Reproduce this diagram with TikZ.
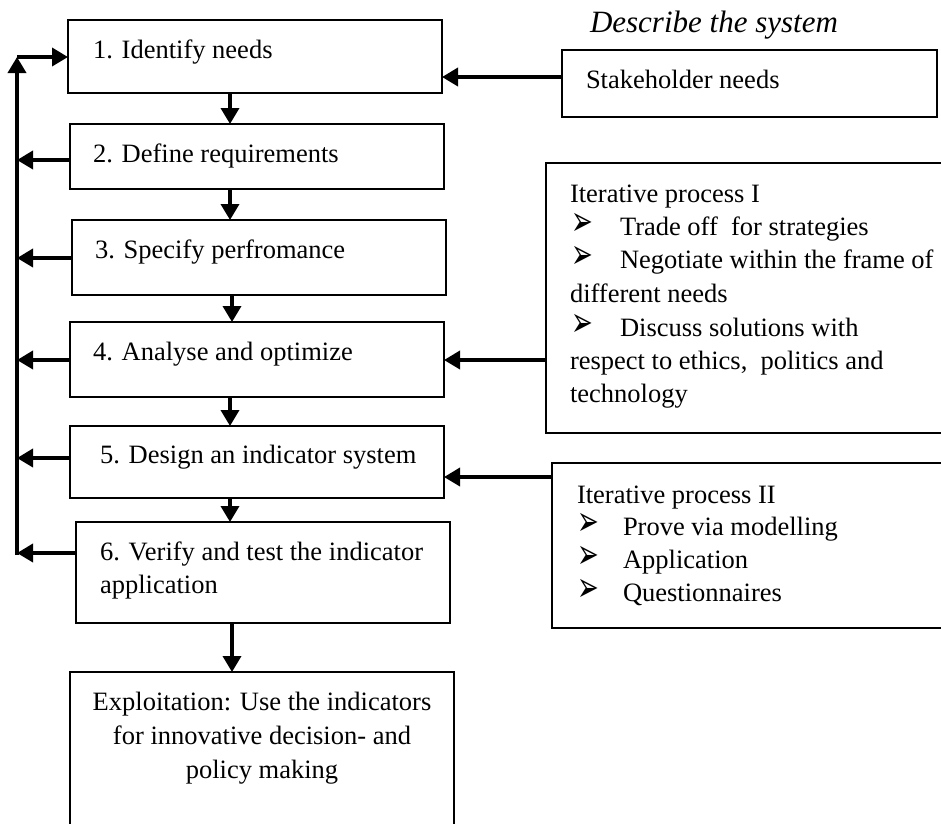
\documentclass[tikz,border=0pt]{standalone}
\usepackage{graphicx}
\usepackage{fontspec}
\setmainfont{Liberation Serif}
\newfontfamily\dejavu{DejaVu Sans}
\usetikzlibrary{arrows.meta}
\newcommand{\arrbul}{\raisebox{0pt}[16pt][0pt]{\scalebox{1}[1.6]{➢}}}
\begin{document}
\begin{tikzpicture}[x=1pt,y=-1pt,
 boxst/.style={draw, line width=1.8pt, inner sep=0pt, outer sep=0pt, rectangle},
 txt/.style={inner sep=0pt, outer sep=0pt, anchor=base west, font=\fontsize{26.5}{33.5}\selectfont},
 ctxt/.style={txt, anchor=base},
 bul/.style={inner sep=0pt, outer sep=0pt, anchor=base west, font=\dejavu\fontsize{26}{30}\selectfont},
 arr/.style={line width=3.6pt, -{Triangle[length=16pt,width=18pt]}}]
\useasboundingbox (0,0) rectangle (941,823);
\clip (0,0) rectangle (941,823);
\fill[white] (0,0) rectangle (941,823);

% boxes
\node[boxst, minimum width=374pt, minimum height=73pt] (b1) at (255,56.5) {};
\node[boxst, minimum width=374pt, minimum height=65pt] (b2) at (257,156.5) {};
\node[boxst, minimum width=374pt, minimum height=75pt] (b3) at (259,257.5) {};
\node[boxst, minimum width=374pt, minimum height=75pt] (b4) at (257,359.5) {};
\node[boxst, minimum width=374pt, minimum height=72pt] (b5) at (257,462) {};
\node[boxst, minimum width=374pt, minimum height=101pt] (b6) at (263,572.5) {};
\node[boxst, minimum width=384pt, minimum height=168pt] (b7) at (262,756) {};
\node[boxst, minimum width=375pt, minimum height=67pt] (sh) at (749.5,83.5) {};
\node[boxst, minimum width=404pt, minimum height=270pt] (it1) at (748,298) {};
\node[boxst, minimum width=398pt, minimum height=165pt] (it2) at (751,545.5) {};

% texts
\node[txt] (t1) at (93,58) {1. Identify needs};
\node[txt] (t2) at (93,162) {2. Define requirements};
\node[txt] (t3) at (95,258) {3. Specify perfromance};
\node[txt] (t4) at (93,360) {4. Analyse and optimize};
\node[txt] (t5) at (100,463) {5. Design an indicator system};
\node[txt] (t6a) at (100,560) {6. Verify and test the indicator};
\node[txt] (t6b) at (100,593) {application};
\node[ctxt] (t7a) at (262,710) {Exploitation: Use the indicators};
\node[ctxt] (t7b) at (262,744) {for innovative decision- and};
\node[ctxt] (t7c) at (262,778) {policy making};
\node[txt, font=\itshape\fontsize{31}{36}\selectfont] (title) at (590,32) {Describe the system};
\node[txt] (tsh) at (586,88) {Stakeholder needs};

\node[txt] (i1h) at (570,202) {Iterative process I};
\node[bul] (i1b1) at (571,235) {\arrbul};
\node[txt] (i1t1) at (620,235) {Trade off\ \ for strategies};
\node[bul] (i1b2) at (571,268) {\arrbul};
\node[txt] (i1t2) at (620,268) {Negotiate within the frame of};
\node[txt] (i1t2b) at (570,302) {different needs};
\node[bul] (i1b3) at (571,336) {\arrbul};
\node[txt] (i1t3) at (620,336) {Discuss solutions with};
\node[txt] (i1t3b) at (570,369) {respect to ethics,\ \ politics and};
\node[txt] (i1t3c) at (570,402) {technology};

\node[txt] (i2h) at (577,503) {Iterative process II};
\node[bul] (i2b1) at (577,535) {\arrbul};
\node[txt] (i2t1) at (623,535) {Prove via modelling};
\node[bul] (i2b2) at (577,568) {\arrbul};
\node[txt] (i2t2) at (623,568) {Application};
\node[bul] (i2b3) at (577,601) {\arrbul};
\node[txt] (i2t3) at (623,601) {Questionnaires};

% downward arrows
\coordinate (vx) at (230,0);
\coordinate (vy) at (232,0);
\draw[arr] (b1.south -| vx) -- (b2.north -| vx);
\draw[arr] (b2.south -| vx) -- (b3.north -| vx);
\draw[arr] (b3.south -| vy) -- (b4.north -| vy);
\draw[arr] (b4.south -| vx) -- (b5.north -| vx);
\draw[arr] (b5.south -| vx) -- (b6.north -| vx);
\draw[arr] (b6.south -| vy) -- (b7.north -| vy);

% feedback line
\coordinate (ftop) at (17,57);
\coordinate (fbot) at (17,555);
\draw[arr] (fbot) -- (ftop);
\draw[arr] (ftop) -- (b1.west |- ftop);
\coordinate (f2) at (17,160);
\coordinate (f3) at (17,258);
\coordinate (f4) at (17,360);
\coordinate (f5) at (17,458);
\coordinate (f6) at (17,553);
\draw[arr] (b2.west |- f2) -- (f2);
\draw[arr] (b3.west |- f3) -- (f3);
\draw[arr] (b4.west |- f4) -- (f4);
\draw[arr] (b5.west |- f5) -- (f5);
\draw[arr] (b6.west |- f6) -- (f6);

% inputs from right
\coordinate (r1) at (0,77);
\coordinate (r4) at (0,360);
\coordinate (r5) at (0,477);
\draw[arr] (sh.west |- r1) -- (b1.east |- r1);
\draw[arr] (it1.west |- r4) -- (b4.east |- r4);
\draw[arr] (it2.west |- r5) -- (b5.east |- r5);
\end{tikzpicture}
\end{document}
